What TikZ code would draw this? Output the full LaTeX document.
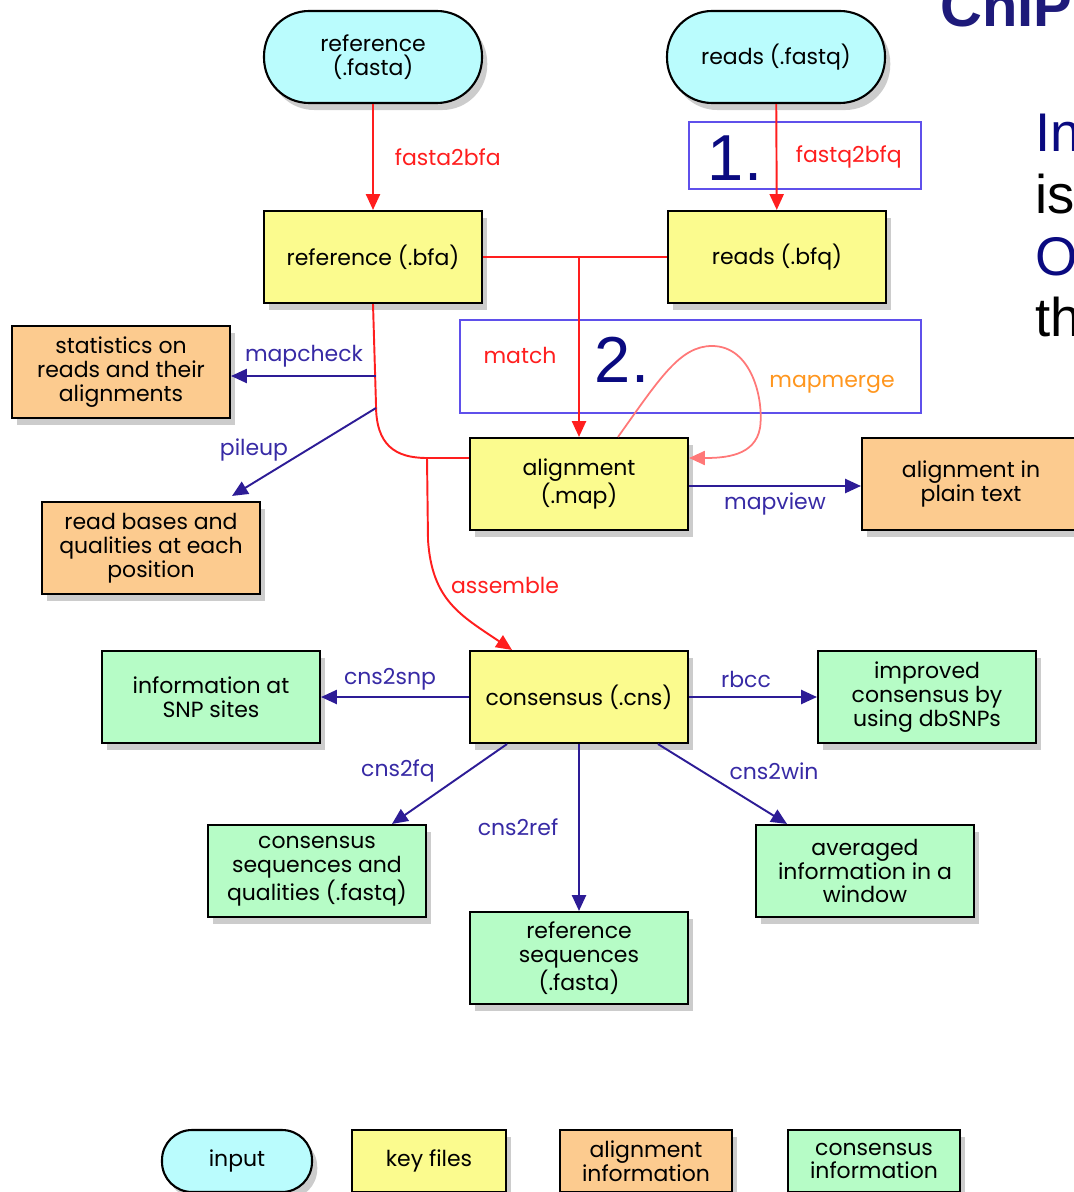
\documentclass[tikz,border=0pt]{standalone}
\usepackage{fontspec}
\setmainfont{Poppins}
\newfontfamily\arialfont{Liberation Sans}
\usetikzlibrary{arrows.meta,shadows}

\definecolor{incol}{RGB}{186,252,253}
\definecolor{keycol}{RGB}{251,251,142}
\definecolor{alncol}{RGB}{252,203,143}
\definecolor{cnscol}{RGB}{182,252,198}
\definecolor{arrred}{RGB}{255,30,30}
\definecolor{arrblue}{RGB}{45,28,150}
\definecolor{labblue}{RGB}{55,42,165}
\definecolor{framecol}{RGB}{95,80,235}
\definecolor{numnavy}{RGB}{10,10,128}
\definecolor{titlenavy}{RGB}{30,26,122}
\definecolor{mergepink}{RGB}{255,120,120}
\definecolor{mergeorange}{RGB}{255,150,30}

\begin{document}
\begin{tikzpicture}[x=0.02cm,y=-0.02cm,
  box/.style={draw=black,line width=1.2pt,minimum width=4.36cm,minimum height=1.84cm,
    align=center,inner sep=2pt,font=\fontsize{12.5}{13.6}\selectfont,
    drop shadow={shadow xshift=3pt,shadow yshift=-4pt,opacity=0.4}},
  inbox/.style={box,fill=incol,rounded corners=0.9cm},
  keybox/.style={box,fill=keycol},
  alnbox/.style={box,fill=alncol},
  cnsbox/.style={box,fill=cnscol},
  legbox/.style={minimum height=1.24cm},
  redline/.style={draw=arrred,line width=1.1pt},
  redarr/.style={redline,-{Triangle[length=9pt,width=8pt]}},
  bluearr/.style={draw=arrblue,line width=1.1pt,-{Triangle[length=9pt,width=8pt]}},
  redlab/.style={text=arrred,font=\fontsize{12.5}{13}\selectfont},
  bluelab/.style={text=labblue,font=\fontsize{12.5}{13}\selectfont},
  stepframe/.style={draw=framecol,line width=0.6pt},
  stepnum/.style={text=numnavy,font=\arialfont\fontsize{37}{37}\selectfont},
  sidetext/.style={anchor=base west,font=\arialfont\fontsize{31}{31}\selectfont},
]
\useasboundingbox (0,0) rectangle (1073,1192);

% title and side text (cut off at the edge)
\node[anchor=base west,text=titlenavy,font=\arialfont\bfseries\fontsize{33}{33}\selectfont,inner sep=0] (title) at (940,27) {ChIP};
\node[sidetext,text=numnavy,inner sep=0] (t1) at (1035,152) {In};
\node[sidetext,inner sep=0] (t2) at (1035,214) {is};
\node[sidetext,text=numnavy,inner sep=0] (t3) at (1035,276) {O};
\node[sidetext,inner sep=0] (t4) at (1035,337) {th};

% step frames
\draw[stepframe] (689,122) rectangle (921,189);
\draw[stepframe] (460,320) rectangle (921,413);
\node[stepnum] (one) at (735,158) {1.};
\node[stepnum] (two) at (622,360) {2.};

% input files
\node[inbox] (ref) at (373,57) {reference\\(.fasta)};
\node[inbox] (reads) at (776,57) {reads (.fastq)};

% key files
\node[keybox] (rbfa) at (373,257) {reference (.bfa)};
\node[keybox] (rbfq) at (777,257) {reads (.bfq)};
\node[keybox] (map) at (579,484) {alignment\\(.map)};
\node[keybox] (cns) at (579,697) {consensus (.cns)};

% alignment information
\node[alnbox] (stats) at (121,372) {statistics on\\reads and their\\alignments};
\node[alnbox] (bases) at (151,548) {read bases and\\qualities at each\\position};
\node[alnbox] (plain) at (971,484) {alignment in\\plain text};

% consensus information
\node[cnsbox] (snp) at (211,697) {information at\\SNP sites};
\node[cnsbox] (impr) at (927,697) {improved\\consensus by\\using dbSNPs};
\node[cnsbox] (cfq) at (317,871) {consensus\\sequences and\\qualities (.fastq)};
\node[cnsbox] (cref) at (579,958) {reference\\sequences\\(.fasta)};
\node[cnsbox] (cwin) at (865,871) {averaged\\information in a\\window};

% red conversion steps
\draw[redarr] (ref) -- (rbfa) node[redlab,midway,right=0.3cm] {fasta2bfa};
\draw[redarr] (reads) -- (rbfq) node[redlab,midway,right=0.25cm] {fastq2bfq};
\coordinate (mj) at (map.north |- rbfa.east);
\draw[redline] (rbfa.east) -- (rbfq.west);
\draw[redarr] (mj) -- (map.north);
\node[redlab] (matchlab) at (520,355) {match};

% mapmerge loop
\draw[draw=mergepink,line width=1pt,-{Triangle[length=9pt,width=8pt]}]
  ([xshift=0.78cm]map.north) .. controls (660,378) and (680,346) .. (712,346)
  .. controls (752,346) and (764,400) .. (760,428)
  .. controls (755,456) and (725,458) .. ([yshift=0.52cm]map.east);
\node[text=mergeorange,font=\fontsize{12.5}{13}\selectfont] (mergelab) at (832,384) {mapmerge};

% reference and alignment into assemble
\coordinate (asm) at (427,458);
\draw[redline] (rbfa.south) -- (376,405) .. controls (376,445) and (395,458) .. (asm)
  -- ([yshift=0.52cm]map.west);
\draw[redarr] (asm) -- (428,540) .. controls (432,600) and (460,615) .. ([xshift=-1.34cm]cns.north);
\node[redlab] (asmlab) at (505,585) {assemble};

% alignment tools
\coordinate (chk) at (376,376);
\coordinate (pil) at (376,408);
\draw[bluearr] (chk) -- (chk -| stats.east);
\node[bluelab] (chklab) at (304,356) {mapcheck};
\draw[bluearr] (pil) -- ([xshift=1.62cm,yshift=0.1cm]bases.north);
\node[bluelab] (pillab) at (254,450) {pileup};
\draw[bluearr] ([yshift=-0.04cm]map.east) -- ([yshift=-0.04cm]plain.west);
\node[bluelab] (viewlab) at (775,504) {mapview};

% consensus tools
\draw[bluearr] (cns.west) -- (snp.east);
\node[bluelab] (snplab) at (390,679) {cns2snp};
\draw[bluearr] (cns.east) -- (impr.west);
\node[bluelab] (rbcclab) at (746,679) {rbcc};
\draw[bluearr] ([xshift=-1.44cm]cns.south) -- ([xshift=1.5cm]cfq.north);
\node[bluelab] (fqlab) at (398,771) {cns2fq};
\draw[bluearr] (cns.south) -- (cref.north);
\node[bluelab] (reflab) at (518,827) {cns2ref};
\draw[bluearr] ([xshift=1.58cm]cns.south) -- ([xshift=-1.56cm]cwin.north);
\node[bluelab] (winlab) at (774,771) {cns2win};

% legend
\node[inbox,legbox,minimum width=3cm,rounded corners=0.6cm] (lgin) at (237,1161) {input};
\node[keybox,legbox,minimum width=3.08cm] (lgkey) at (429,1161) {key files};
\node[alnbox,legbox,minimum width=3.44cm] (lgaln) at (646,1161) {alignment\\information};
\node[cnsbox,legbox,minimum width=3.44cm] (lgcns) at (874,1161) {consensus\\information};
\end{tikzpicture}
\end{document}
